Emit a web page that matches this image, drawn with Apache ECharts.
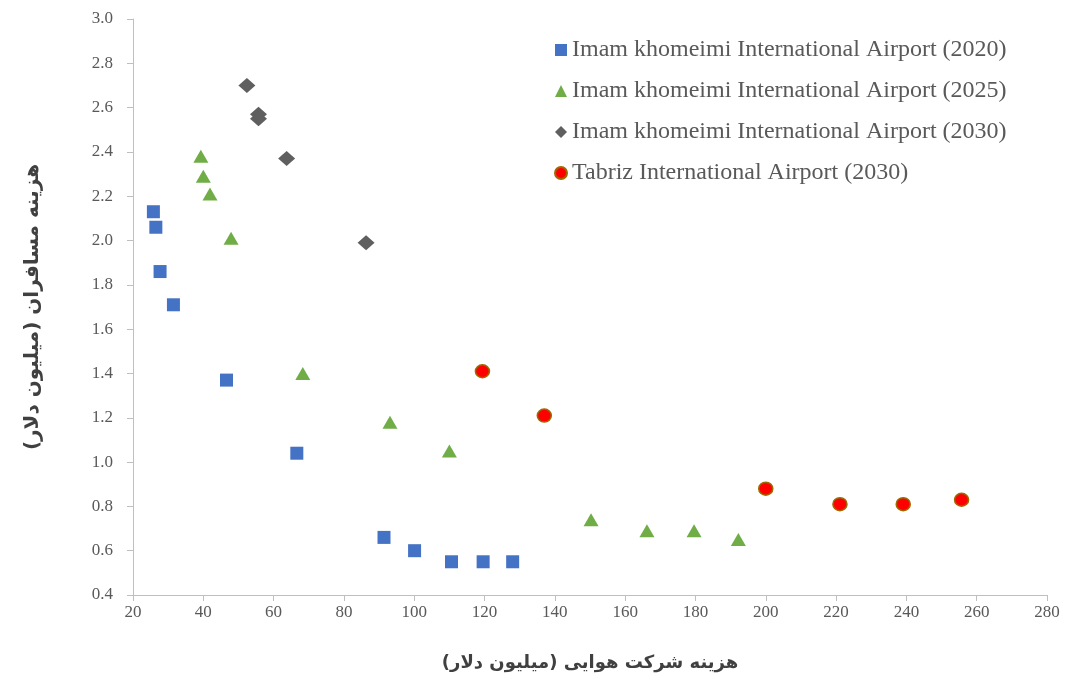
<!DOCTYPE html>
<html>
<head>
<meta charset="utf-8">
<script src="https://cdn.jsdelivr.net/npm/echarts@6/dist/echarts.min.js"></script>
<style>
html,body{margin:0;padding:0;background:#fff;}
#c{width:1067px;height:684px;}
</style>
</head>
<body>
<div id="c"></div>
<script>
// Series names
const seriesNames = [
  'Imam khomeimi International Airport (2020)',
  'Imam khomeimi International Airport (2025)',
  'Imam khomeimi International Airport (2030)',
  'Tabriz International Airport (2030)'
];
// [airline cost, passenger cost]
const ika2020 = [[25.8,2.13],[26.5,2.06],[27.7,1.86],[31.5,1.71],[46.6,1.37],[66.6,1.04],[91.4,0.66],[100.1,0.60],[110.6,0.55],[119.6,0.55],[128.0,0.55]];
const ika2025 = [[39.3,2.38],[40.0,2.29],[41.9,2.21],[47.9,2.01],[68.3,1.40],[93.1,1.18],[110.0,1.05],[150.3,0.74],[166.2,0.69],[179.6,0.69],[192.2,0.65]];
const ika2030 = [[52.4,2.70],[55.7,2.57],[55.7,2.55],[63.7,2.37],[86.3,1.99]];
const tabriz2030 = [[119.4,1.41],[137.0,1.21],[200.0,0.88],[221.1,0.81],[239.1,0.81],[255.7,0.83]];

const xTitle = 'هزینه شرکت هوایی (میلیون دلار)';
const yTitle = 'هزینه مسافران (میلیون دلار)';

const serif = '"Liberation Serif","Times New Roman",serif';
const chart = echarts.init(document.getElementById('c'), null, {renderer:'canvas'});
chart.setOption({
  animation:false,
  backgroundColor:'#ffffff',
  grid:{left:133,right:20,top:19,bottom:89,containLabel:false},
  legend:{
    orient:'vertical',left:549,top:33,itemGap:17,itemWidth:12,itemHeight:12,
    textStyle:{fontFamily:serif,fontSize:24,color:'#595959'},
    data:[
      {name:seriesNames[0],icon:'rect'},
      {name:seriesNames[1],icon:'triangle'},
      {name:seriesNames[2],icon:'diamond'},
      {name:seriesNames[3],icon:'circle'}
    ]
  },
  xAxis:{
    type:'value',min:20,max:280,interval:20,
    name:xTitle,nameLocation:'middle',nameGap:59,
    nameTextStyle:{fontFamily:'"DejaVu Sans",sans-serif',fontWeight:'bold',fontSize:18,color:'#404040'},
    axisLine:{show:true,lineStyle:{color:'#bfbfbf',width:1}},
    axisTick:{show:true,length:6,lineStyle:{color:'#bfbfbf'}},
    axisLabel:{fontFamily:serif,fontSize:17,color:'#595959',margin:9},
    splitLine:{show:false}
  },
  yAxis:{
    type:'value',min:0.4,max:3.0,interval:0.2,
    name:yTitle,nameLocation:'middle',nameGap:90,nameRotate:90,
    nameTextStyle:{fontFamily:'"DejaVu Sans",sans-serif',fontWeight:'bold',fontSize:20,color:'#404040'},
    axisLine:{show:true,lineStyle:{color:'#bfbfbf',width:1}},
    axisTick:{show:true,length:6,lineStyle:{color:'#bfbfbf'}},
    axisLabel:{fontFamily:serif,fontSize:17,color:'#595959',margin:20,formatter:v=>v.toFixed(1)},
    splitLine:{show:false}
  },
  series:[
    {name:seriesNames[0],type:'scatter',data:ika2020,symbol:'rect',symbolSize:13,itemStyle:{color:'#4472C4',opacity:1}},
    {name:seriesNames[1],type:'scatter',data:ika2025,symbol:'triangle',symbolSize:[15,13],itemStyle:{color:'#70AD47',opacity:1}},
    {name:seriesNames[2],type:'scatter',data:ika2030,symbol:'diamond',symbolSize:[17,15],itemStyle:{color:'#5f5f5f',opacity:1}},
    {name:seriesNames[3],type:'scatter',data:tabriz2030,symbol:'circle',symbolSize:[14,13],itemStyle:{color:'#FF0000',borderColor:'#9c6a00',borderWidth:1.5,opacity:1}}
  ]
});
</script>
</body>
</html>
